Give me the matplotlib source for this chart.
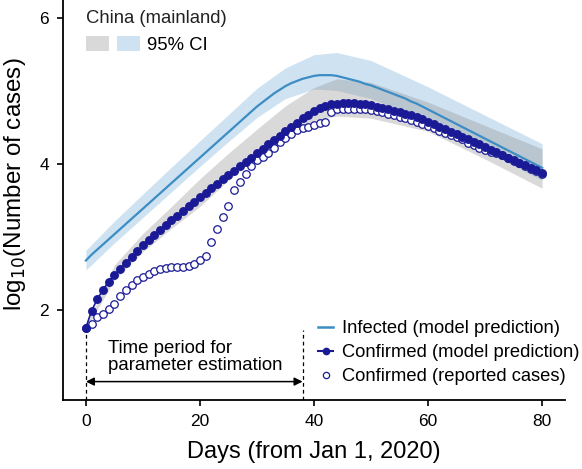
import numpy as np
import matplotlib
matplotlib.use("Agg")
import matplotlib.pyplot as plt
from matplotlib.patches import Patch
from matplotlib.lines import Line2D
from matplotlib.legend_handler import HandlerTuple

plt.rcParams['font.family'] = ['Liberation Sans', 'DejaVu Sans']

# days since Jan 1, 2020
days = np.arange(0, 81)

# log10 infected (model prediction)
infected = [2.68, 2.76, 2.83, 2.90, 2.97, 3.04, 3.11, 3.18, 3.25, 3.32,
            3.39, 3.46, 3.53, 3.60, 3.67, 3.74, 3.81, 3.88, 3.95, 4.02,
            4.09, 4.16, 4.23, 4.30, 4.37, 4.44, 4.51, 4.58, 4.65, 4.72,
            4.79, 4.85, 4.91, 4.97, 5.02, 5.07, 5.11, 5.14, 5.17, 5.19,
            5.21, 5.22, 5.22, 5.22, 5.21, 5.19, 5.17, 5.15, 5.13, 5.10,
            5.08, 5.05, 5.02, 4.99, 4.96, 4.93, 4.90, 4.86, 4.83, 4.79,
            4.75, 4.71, 4.67, 4.63, 4.59, 4.55, 4.51, 4.47, 4.43, 4.39,
            4.35, 4.31, 4.27, 4.23, 4.19, 4.15, 4.11, 4.07, 4.03, 3.99,
            3.95]

# log10 confirmed (model prediction)
confirmed_model = [1.76, 1.99, 2.15, 2.28, 2.39, 2.48, 2.57, 2.65, 2.73, 2.81,
                   2.89, 2.96, 3.03, 3.10, 3.16, 3.23, 3.29, 3.36, 3.42, 3.48,
                   3.55, 3.61, 3.67, 3.73, 3.79, 3.85, 3.91, 3.97, 4.03, 4.09,
                   4.15, 4.21, 4.27, 4.33, 4.39, 4.45, 4.51, 4.57, 4.63, 4.68,
                   4.73, 4.77, 4.80, 4.82, 4.83, 4.84, 4.84, 4.84, 4.83, 4.82,
                   4.81, 4.79, 4.77, 4.75, 4.73, 4.71, 4.69, 4.67, 4.65, 4.62,
                   4.58, 4.55, 4.51, 4.48, 4.44, 4.41, 4.37, 4.34, 4.30, 4.27,
                   4.23, 4.20, 4.16, 4.13, 4.09, 4.06, 4.02, 3.99, 3.95, 3.92,
                   3.88]

# log10 confirmed (reported cases)
confirmed_reported = [1.76, 1.81, 1.90, 1.95, 2.02, 2.09, 2.20, 2.28, 2.35, 2.41,
                      2.46, 2.50, 2.54, 2.57, 2.58, 2.59, 2.59, 2.59, 2.60, 2.63,
                      2.68, 2.74, 2.93, 3.11, 3.28, 3.42, 3.64, 3.76, 3.87, 3.97,
                      4.06, 4.10, 4.15, 4.22, 4.30, 4.36, 4.42, 4.47, 4.49, 4.51,
                      4.53, 4.56, 4.58, 4.71, 4.75, 4.76, 4.76, 4.76, 4.76, 4.75,
                      4.74, 4.73, 4.71, 4.69, 4.67, 4.65, 4.63, 4.60, 4.58, 4.55,
                      4.52, 4.49, 4.46, 4.43, 4.40, 4.37, 4.34, 4.29, 4.26, 4.22,
                      4.19, 4.17, 4.15, 4.12, 4.08, 4.05, 4.01, 3.98, 3.94, 3.91,
                      3.87]

# 95% CI bands (read at a few days)
ci_days = [0, 5, 10, 15, 20, 25, 30, 35, 40, 44, 50, 60, 70, 80]
infected_lo = [2.55, 2.92, 3.27, 3.62, 3.97, 4.31, 4.64, 4.90, 5.03, 5.01, 4.90, 4.57, 4.18, 3.78]
infected_hi = [2.82, 3.22, 3.59, 3.96, 4.32, 4.68, 5.04, 5.32, 5.50, 5.53, 5.42, 5.06, 4.67, 4.28]
confirmed_lo = [1.74, 2.41, 2.80, 3.12, 3.42, 3.78, 4.10, 4.40, 4.60, 4.66, 4.63, 4.45, 4.07, 3.67]
confirmed_hi = [1.78, 2.62, 3.05, 3.42, 3.80, 4.15, 4.48, 4.80, 5.05, 5.17, 5.12, 4.85, 4.53, 4.21]

estimation_end = 38

c_inf = '#3c8dc4'
c_navy = '#1a1a96'

fig = plt.figure(figsize=(5.82, 4.69), dpi=100)
ax = fig.add_axes([0.108, 0.147, 0.863, 0.853])

ax.fill_between(ci_days, infected_lo, infected_hi, color='#cfe2f1', lw=0, zorder=1)
ax.fill_between(ci_days, confirmed_lo, confirmed_hi, color='#8d8d8d', alpha=0.33, lw=0, zorder=2)

ax.plot(days, infected, color=c_inf, lw=1.6, zorder=3)
ax.plot(days, confirmed_reported, ls='none', marker='o', ms=5.4, mfc='white',
        mec=c_navy, mew=0.9, zorder=4)
ax.plot(days, confirmed_model, color=c_navy, lw=1.2, marker='o', ms=5.4,
        mec=c_navy, zorder=5)

# estimation period annotation
ylo = 0.767
ax.vlines([0, estimation_end], ylo, 1.73, colors='black', lw=0.9,
          linestyles=(0, (3, 2.5)), zorder=2)
ax.annotate('', xy=(0, 1.02), xytext=(estimation_end, 1.02),
            arrowprops=dict(arrowstyle='<|-|>', color='black', lw=1.1,
                            mutation_scale=12, shrinkA=0, shrinkB=0))
ax.text(3.9, 1.36, 'Time period for\nparameter estimation', fontsize=13.4,
        ha='left', va='center', linespacing=1.0)

ax.set_xlim(-4.04, 84.04)
ax.set_ylim(ylo, 6.25)
ax.set_xticks([0, 20, 40, 60, 80])
ax.set_yticks([2, 4, 6])
ax.spines['top'].set_visible(False)
ax.spines['right'].set_visible(False)
ax.spines['left'].set_linewidth(1.3)
ax.spines['bottom'].set_linewidth(1.3)
ax.tick_params(labelsize=12.5, length=4, width=1.2, pad=6)
ax.set_xlabel('Days (from Jan 1, 2020)', fontsize=17, labelpad=9)
ax.set_ylabel('log$_{10}$(Number of cases)', fontsize=17.4)
ax.yaxis.set_label_coords(-0.069, 0.54)

# top-left CI legend
ci_handle = (Patch(facecolor='#d9d9d9', lw=0), Patch(facecolor='#cfe2f1', lw=0))
leg1 = fig.legend([ci_handle], ['95% CI'], title='China (mainland)',
                  handler_map={tuple: HandlerTuple(ndivide=None, pad=0.45)},
                  loc='upper left', bbox_to_anchor=(0.132, 0.998), frameon=False,
                  fontsize=13.3, title_fontsize=13.3, handlelength=2.9,
                  handleheight=0.8, handletextpad=0.4, borderpad=0,
                  alignment='left')
leg1.get_title().set_color('#222222')

# bottom-right series legend
handles = [Line2D([], [], color=c_inf, lw=1.8),
           Line2D([], [], color=c_navy, lw=1.5, marker='o', ms=4.5),
           Line2D([], [], ls='none', marker='o', ms=4.5, mfc='white', mec=c_navy, mew=0.9)]
labels = ['Infected (model prediction)', 'Confirmed (model prediction)',
          'Confirmed (reported cases)']
fig.legend(handles, labels, loc='lower left', bbox_to_anchor=(0.531, 0.159),
           frameon=False, fontsize=13.2, handlelength=0.81, handletextpad=0.49,
           labelspacing=0.38, borderpad=0)

fig.savefig('out.png', dpi=100)
